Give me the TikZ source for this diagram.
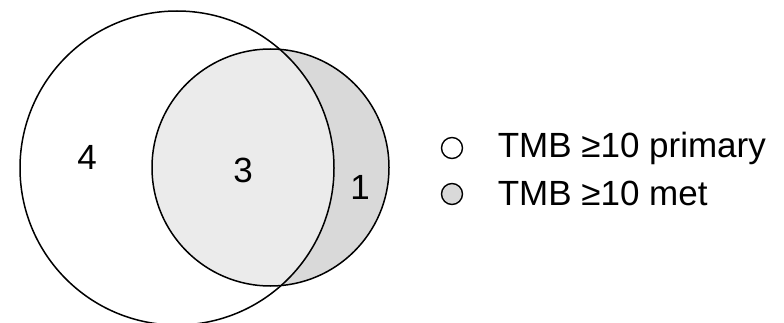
\documentclass[tikz,border=0pt]{standalone}
\usepackage{fontspec}
\setmainfont{Liberation Sans}
\definecolor{lightfill}{HTML}{EBEBEB}
\definecolor{darkfill}{HTML}{D9D9D9}
\begin{document}
\begin{tikzpicture}[x=1pt,y=-1pt,line width=1.5pt,
  num/.style={font=\fontsize{35}{42}\selectfont,inner sep=0pt},
  legtext/.style={font=\fontsize{35}{42}\selectfont,inner sep=0pt,anchor=base west},
  legmark/.style={circle,draw,line width=1.4pt,minimum size=21pt,inner sep=0pt}]
\useasboundingbox (0,0) rectangle (784,323);
% fills
\fill[darkfill] (270.5,167.5) circle[radius=118.5];
\begin{scope}
  \clip (177,168) circle[radius=157];
  \fill[lightfill] (270.5,167.5) circle[radius=118.5];
\end{scope}
% outlines
\draw (177,168) circle[radius=157];
\draw (270.5,167.5) circle[radius=118.5];
% counts
\node[num] (n4) at (87,157) {4};
\node[num] (n3) at (243,170) {3};
\node[num] (n1) at (360,187) {1};
% legend
\node[legmark,fill=white] (m1) at (452,148) {};
\node[legmark,fill=darkfill] (m2) at (452,194) {};
\node[legtext] (t1) at (497,158) {TMB ≥10 primary};
\node[legtext] (t2) at (497,205) {TMB ≥10 met};
\end{tikzpicture}
\end{document}
